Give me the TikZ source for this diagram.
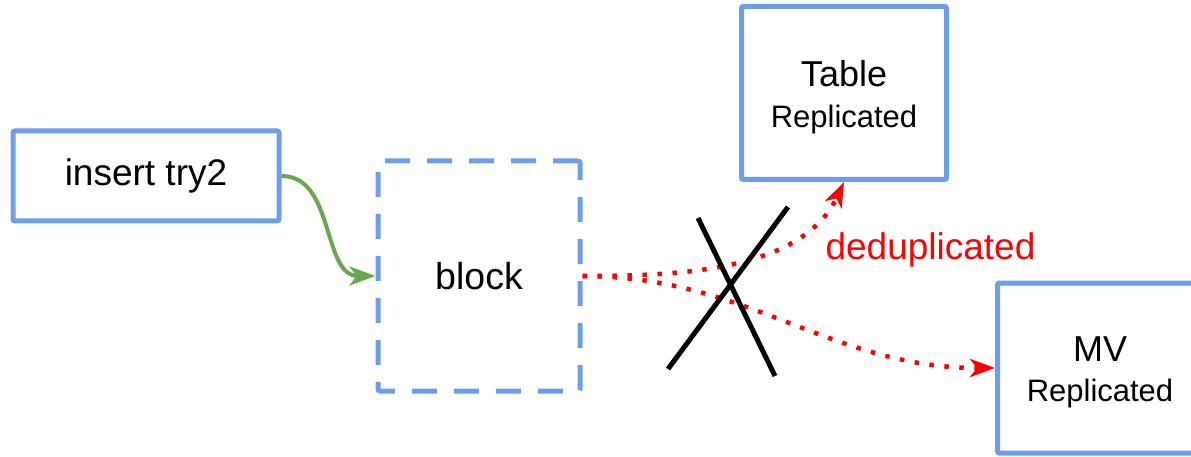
\documentclass[tikz,border=0pt]{standalone}
\usepackage{fontspec}
\setmainfont{Liberation Sans}
\usetikzlibrary{positioning}
\usetikzlibrary{arrows.meta}
\usepackage{xcolor}
\definecolor{boxblue}{HTML}{6D9EEB}
\definecolor{flowgreen}{HTML}{6AA84F}

\tikzset{
  box/.style={draw=boxblue, rectangle, line width=5pt, rounded corners=2pt,
    inner sep=0pt, align=center, font=\fontsize{36}{40}\selectfont},
  blockbox/.style={box, dash pattern=on 25pt off 17pt},
  dropped/.style={red, line width=4.5pt, dash pattern=on 4.5pt off 10.5pt,
    -{Stealth[length=25pt,width=18pt,inset=7pt]}},
  cross/.style={black, line width=5pt}
}

\begin{document}
\begin{tikzpicture}[x=1pt, y=-1pt]
            \useasboundingbox (0,0) rectangle (1191,457);
            \clip (0,0) rectangle (1191,457);
            % Boxes
            \node[box, minimum width=266pt, minimum height=90pt, font=\fontsize{37}{40}\selectfont] (insert) at (146,176) {insert try2};
            \node[blockbox, minimum width=202pt, minimum height=230pt, font=\fontsize{37.5}{40}\selectfont] (block) at (479,276) {block};
            \node[box, minimum width=205pt, minimum height=173pt] (table) at (844,93) {\rule{0pt}{35pt}Table\\[1pt]{\fontsize{31}{36}\selectfont Replicated}};
            \node[box, minimum width=205pt, minimum height=170pt] (mv) at (1100,368) {\rule{0pt}{33pt}MV\\[0pt]{\fontsize{31}{36}\selectfont Replicated}};

            % Insert goes into the block
            \draw[flowgreen, line width=4pt, -{Stealth[length=26pt,width=19pt,inset=7pt]}]
              (insert.east) to[out=0, in=180] (block.west);

            % Block is dropped on the way to both tables
            \draw[dropped] (block.east) to[out=0, in=-115, looseness=0.9] (table.south);
            \draw[dropped] (block.east) to[out=0, in=180] (mv.west);

            \node[red, font=\fontsize{37}{40}\selectfont, anchor=west] (dedup) at (822,250) {deduplicated};

            % Cross over the paths
            \coordinate (crossa) at (668,369);
            \coordinate (crossb) at (788,207);
            \coordinate (crossc) at (698,218);
            \coordinate (crossd) at (775,376);
            \draw[cross] (crossa) -- (crossb);
            \draw[cross] (crossc) -- (crossd);
        \end{tikzpicture}
\end{document}
